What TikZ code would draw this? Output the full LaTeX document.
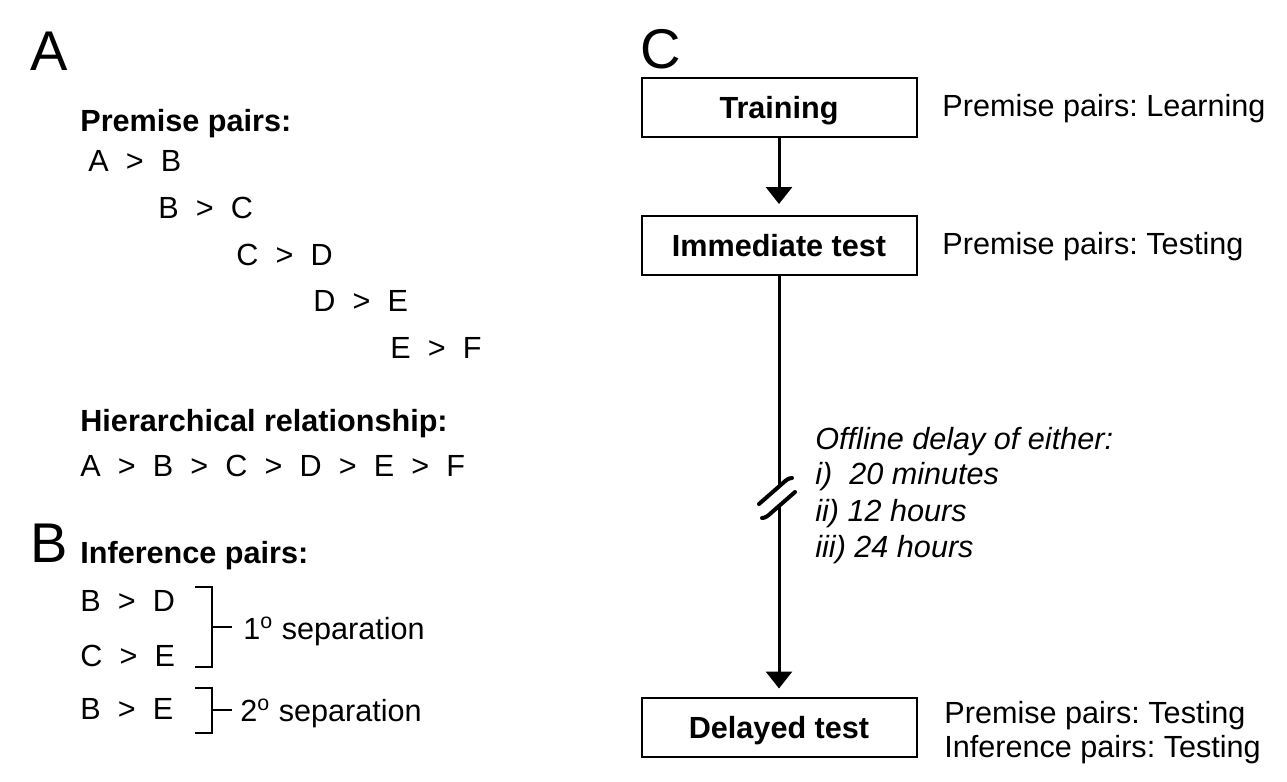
\documentclass[tikz,border=0pt]{standalone}
\usepackage{fontspec}
\setmainfont{Liberation Sans}
\usetikzlibrary{arrows.meta}
\newcommand{\isgt}{\hspace{0.56em}>\hspace{0.56em}}
\frenchspacing

\begin{document}
\begin{tikzpicture}[x=0.5pt, y=-0.5pt,
    txt/.style={anchor=base west, inner sep=0pt, font=\fontsize{15.3pt}{18pt}\selectfont},
    hd/.style={txt, font=\fontsize{15.3pt}{18pt}\selectfont\bfseries},
    itx/.style={txt, font=\fontsize{15.3pt}{18pt}\selectfont\itshape},
    panel/.style={anchor=base west, inner sep=0pt, font=\fontsize{28pt}{30pt}\selectfont},
    stage/.style={draw, line width=1pt, minimum width=137.5pt, minimum height=29.5pt,
        text height=11pt, text depth=0pt, inner sep=0pt,
        font=\fontsize{15.3pt}{18pt}\selectfont\bfseries},
    flow/.style={line width=1.5pt, -{Triangle[width=13pt,length=8.5pt]}},
    brk/.style={line width=1pt}]
    \useasboundingbox (0,0) rectangle (1287,782);

    % panel A: premise pairs
    \node[panel] (pA) at (30,70) {A};
    \node[hd] (prem) at (80,131) {Premise pairs:};
    \node[txt] (ab) at (88,171) {A\isgt B};
    \node[txt] (bc) at (158,218) {B\isgt C};
    \node[txt] (cd) at (236,265) {C\isgt D};
    \node[txt] (de) at (313,311) {D\isgt E};
    \node[txt] (ef) at (390,358) {E\isgt F};
    \node[hd] (hier) at (80,431) {Hierarchical relationship:};
    \node[txt] (chain) at (80,476) {A\isgt B\isgt C\isgt D\isgt E\isgt F};

    % panel B: inference pairs
    \node[panel] (pB) at (30,562) {B};
    \node[hd] (inf) at (80,563) {Inference pairs:};
    \node[txt] (bd) at (80,611) {B\isgt D};
    \node[txt] (ce) at (80,666) {C\isgt E};
    \node[txt] (be) at (80,719) {B\isgt E};
    \node[txt] (sep1) at (243,639) {1\textsuperscript{o} separation};
    \node[txt] (sep2) at (240,721) {2\textsuperscript{o} separation};
    \draw[brk] (195,587) -| (212,667) -- (195,667);
    \draw[brk] (212,627) -- (232,627);
    \draw[brk] (195,688) -| (212,733) -- (195,733);
    \draw[brk] (212,710) -- (232,710);

    % panel C: procedure
    \node[panel] (pC) at (640,68) {C};
    \node[stage] (train) at (779,107.5) {Training};
    \node[stage] (imm) at (779,245.5) {Immediate test};
    \node[stage] (del) at (779,727) {Delayed test};
    \draw[flow, shorten >=5.5pt] (train) -- (imm);
    \draw[flow, shorten >=4pt] (imm) -- (del);

    % break in the time line
    \begin{scope}[shift={(779,498)}]
        \fill[white] (-20,6) -- (4,-15) -- (16,-6) -- (-8,15) -- cycle;
        \draw[line width=2pt, line cap=round] (-20,6) -- (4,-15) .. controls (7,-18) and (10,-20) .. (13,-20);
        \draw[line width=2pt, line cap=round] (16,-6) -- (-8,15) .. controls (-11,18) and (-14,20) .. (-17,20);
    \end{scope}

    \node[itx] (off) at (815,449) {Offline delay of either:};
    \node[itx] (d1) at (815,484) {i)\ \ 20 minutes};
    \node[itx] (d2) at (815,521) {ii) 12 hours};
    \node[itx] (d3) at (815,557) {iii) 24 hours};

    \node[txt] (lab1) at (942,116) {Premise pairs: Learning};
    \node[txt] (lab2) at (942,254) {Premise pairs: Testing};
    \node[txt] (lab3) at (944,723) {Premise pairs: Testing};
    \node[txt] (lab4) at (944,757) {Inference pairs: Testing};
\end{tikzpicture}
\end{document}
